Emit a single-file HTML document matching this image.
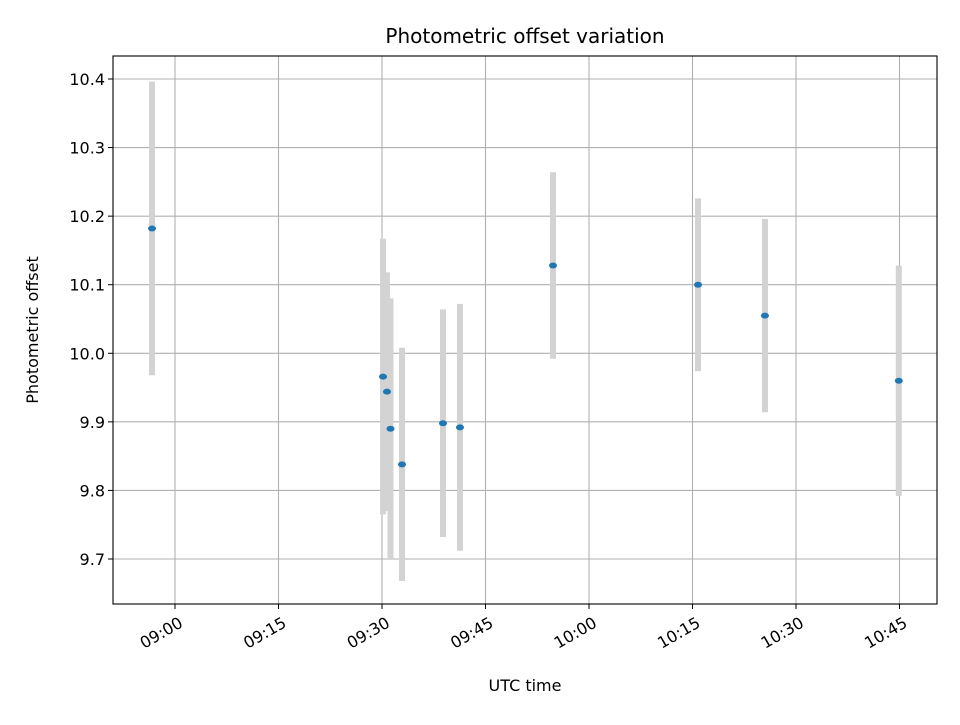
<!DOCTYPE html>
<html><head><meta charset="utf-8"><style>body{margin:0;background:#fff}svg{font-family:"DejaVu Sans","Liberation Sans",sans-serif}</style></head>
<body>
<svg id="chart" width="960" height="720">
<rect width="960" height="720" fill="#fff"/>
<g id="grid"></g><g id="marks"></g><g id="axes"></g>
<text x="525" y="43" text-anchor="middle" font-size="20">Photometric offset variation</text>
<text x="525" y="691" text-anchor="middle" font-size="16">UTC time</text>
<text transform="translate(38,330) rotate(-90)" text-anchor="middle" font-size="16">Photometric offset</text>
</svg>
<script>
const minutes=[-3.33,30.15,30.72,31.23,32.9,38.84,41.3,54.78,75.8,85.5,104.9];
const offsets=[10.182,9.966,9.944,9.890,9.838,9.898,9.892,10.128,10.100,10.055,9.960];
const errors=[0.214,0.201,0.174,0.19,0.17,0.166,0.18,0.136,0.126,0.141,0.168];
const xTicks=[0,15,30,45,60,75,90,105];
const xTickLabels=["09:00","09:15","09:30","09:45","10:00","10:15","10:30","10:45"];
const yTicks=[9.7,9.8,9.9,10.0,10.1,10.2,10.3,10.4];
const L=113,R=937,T=56,B=604;
const xs=m=>175+m*(724.5/105);
const ys=v=>559-(v-9.7)*(480/0.7);
const NS="http://www.w3.org/2000/svg";
function mk(parent,tag,attrs){const e=document.createElementNS(NS,tag);for(const k in attrs)e.setAttribute(k,attrs[k]);document.getElementById(parent).appendChild(e);return e;}
xTicks.forEach((t,i)=>{const x=xs(t);
 const g=mk('grid','line',{x1:x,x2:x,y1:T,y2:B,stroke:'#b0b0b0','stroke-width':1.1});
 
 
 const tk=mk('axes','line',{x1:x,x2:x,y1:B,y2:B+5,stroke:'#000'});
 
 
 const tx=mk('axes','text',{transform:`translate(${x+9},${B+22}) rotate(-30)`,'text-anchor':'end','font-size':16});
 tx.textContent=xTickLabels[i];
 
 
});
yTicks.forEach(t=>{const y=ys(t);
 const g=mk('grid','line',{x1:L,x2:R,y1:y,y2:y,stroke:'#b0b0b0','stroke-width':1.1});
 
 
 const tk=mk('axes','line',{x1:L-5,x2:L,y1:y,y2:y,stroke:'#000'});
 
 
 const tx=mk('axes','text',{x:L-8,y:y+6,'text-anchor':'end','font-size':16});
 tx.textContent=t.toFixed(1);
 
 
});
minutes.forEach((m,i)=>{const x=xs(m);
 const eb=mk('marks','line',{x1:x,x2:x,y1:ys(offsets[i]+errors[i]),y2:ys(offsets[i]-errors[i]),stroke:'#d3d3d3','stroke-width':6});
 
 
});
minutes.forEach((m,i)=>{
 const p=mk('marks','ellipse',{cx:xs(m),cy:ys(offsets[i]),rx:4,ry:3,fill:'#1f77b4'});
 
 
});
const fr=mk('axes','rect',{x:L,y:T,width:R-L,height:B-T,fill:'none',stroke:'#000','stroke-width':1.1});


</script>
</body></html>
